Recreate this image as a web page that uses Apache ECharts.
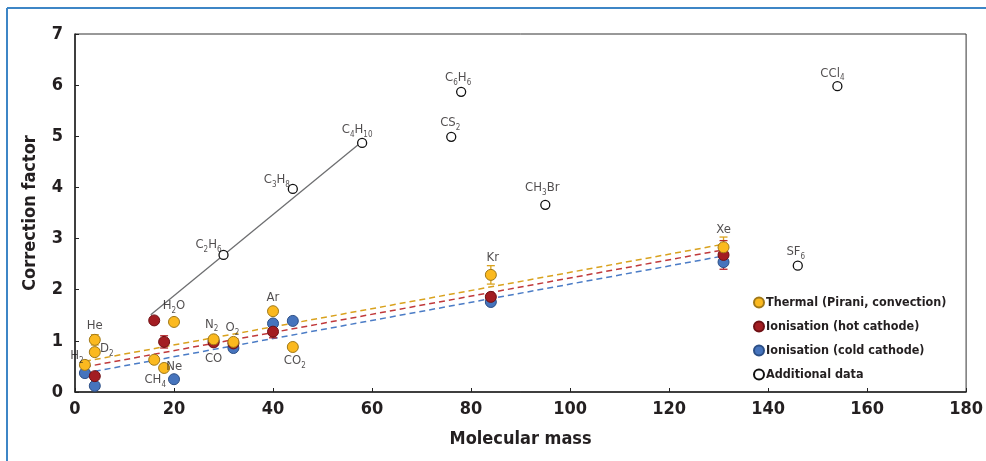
<!DOCTYPE html>
<html>
<head>
<meta charset="utf-8">
<script src="https://cdn.jsdelivr.net/npm/echarts@6/dist/echarts.min.js"></script>
<style>
  html, body { margin: 0; padding: 0; background: #fff; }
  #chart { width: 986px; height: 461px; }
</style>
</head>
<body>
<div id="chart"></div>
<script>
// values: [molecular mass, correction factor]
let thermal = [[2, 0.53], [4, 1.02], [4, 0.78], [16, 0.63], [18, 0.47], [20, 1.37], [28, 1.03], [32, 0.98], [40, 1.58], [44, 0.88], [84, 2.29], [131, 2.83]];
let hotCathode = [[4, 0.31], [16, 1.40], [18, 0.98], [28, 0.97], [32, 0.95], [40, 1.18], [84, 1.86], [131, 2.68]];
let coldCathode = [[2, 0.37], [4, 0.12], [20, 0.25], [28, 1.0], [32, 0.86], [40, 1.34], [44, 1.39], [84, 1.76], [131, 2.54]];
let additional = [[30, 2.68], [44, 3.97], [58, 4.87], [78, 5.87], [76, 4.99], [95, 3.66], [146, 2.47], [154, 5.98]];

// error bars: [mass, low, high]
let thermalErr = [[4, 0.92, 1.12], [84, 2.11, 2.47], [131, 2.63, 3.03]];
let hotErr = [[18, 0.86, 1.10], [40, 1.06, 1.30], [84, 1.79, 1.93], [131, 2.40, 2.96]];

// fitted lines
let thermalFit = [[2, 0.60], [131, 2.89]];
let hotFit = [[2, 0.49], [131, 2.78]];
let coldFit = [[2, 0.37], [131, 2.66]];
let hydrocarbonFit = [[15.3, 1.51], [58, 4.90]];

// gas labels: [mass, factor of the point they sit next to, formula]
let gasLabels = [
  [2, 0.53, 'H2'], [4, 1.02, 'He'], [4, 0.78, 'D2'], [16, 0.63, 'CH4'], [18, 0.47, 'Ne'],
  [20, 1.37, 'H2O'], [28, 1.03, 'N2'], [32, 0.98, 'O2'], [28, 1.0, 'CO'], [40, 1.58, 'Ar'],
  [44, 0.88, 'CO2'], [84, 2.29, 'Kr'], [131, 2.83, 'Xe'],
  [30, 2.68, 'C2H6'], [44, 3.97, 'C3H8'], [58, 4.87, 'C4H10'], [78, 5.87, 'C6H6'],
  [76, 4.99, 'CS2'], [95, 3.66, 'CH3Br'], [146, 2.47, 'SF6'], [154, 5.98, 'CCl4']
];
let xTicks = [0, 180, 20];
let yTicks = [0, 7, 1];

// pixel offsets of each label from its point
let labelOffsets = {
  H2: [-8, -9], He: [0, -14], D2: [12, -3], CH4: [1, 20], Ne: [10, -1],
  H2O: [0, -16], N2: [-2, -15], O2: [-1, -14], CO: [0, 18], Ar: [0, -14],
  CO2: [2, 14], Kr: [2, -17], Xe: [0, -18],
  C2H6: [-15, -10], C3H8: [-16, -9], C4H10: [-5, -13], C6H6: [-3, -14],
  CS2: [-1, -14], CH3Br: [-3, -17], SF6: [-2, -14], CCl4: [-5, -13]
};

const FONT = "'Liberation Sans Narrow', 'DejaVu Sans Condensed', sans-serif";
const INK = '#231f20';

let chartDom = document.getElementById('chart');
let myChart = echarts.init(chartDom);

function formula(txt) {
  // every digit run in the formulas is a subscript
  return txt.replace(/(\d+)|([^\d]+)/g, function (m, d, t) {
    return d ? '{s|' + d + '}' : '{n|' + t + '}';
  });
}

function errorBar(color) {
  return function (params, api) {
    let top = api.coord([api.value(0), api.value(2)]);
    let bot = api.coord([api.value(0), api.value(1)]);
    let w = 4;
    let style = { stroke: color, lineWidth: 1.3 };
    return {
      type: 'group',
      children: [
        { type: 'line', shape: { x1: top[0], y1: top[1], x2: bot[0], y2: bot[1] }, style: style },
        { type: 'line', shape: { x1: top[0] - w, y1: top[1], x2: top[0] + w, y2: top[1] }, style: style },
        { type: 'line', shape: { x1: bot[0] - w, y1: bot[1], x2: bot[0] + w, y2: bot[1] }, style: style }
      ]
    };
  };
}

function dashed(name, data, color) {
  return {
    name: name + ' fit',
    type: 'line',
    data: data,
    symbol: 'none',
    silent: true,
    z: 1,
    lineStyle: { color: color, width: 1.5, type: [6, 4] }
  };
}

let option = {
  backgroundColor: '#fff',
  animation: false,
  textStyle: { fontFamily: FONT },
  graphic: [
    { type: 'line', shape: { x1: 7, y1: 8, x2: 7, y2: 461 }, style: { stroke: '#3d86c6', lineWidth: 2 } },
    { type: 'line', shape: { x1: 7, y1: 8, x2: 986, y2: 8 }, style: { stroke: '#3d86c6', lineWidth: 2 } }
  ],
  grid: {
    left: 75,
    right: 18,
    top: 34,
    bottom: 69,
    show: true,
    borderColor: '#333',
    borderWidth: 1
  },
  legend: {
    orient: 'vertical',
    left: 748,
    top: 291,
    itemGap: 11,
    itemWidth: 10,
    itemHeight: 10,
    icon: 'circle',
    textStyle: { fontFamily: FONT, fontWeight: 'bold', fontSize: 12.5, color: INK, padding: [0, 0, 0, -3] },
    data: ['Thermal (Pirani, convection)', 'Ionisation (hot cathode)', 'Ionisation (cold cathode)', 'Additional data']
  },
  xAxis: {
    type: 'value',
    min: xTicks[0],
    max: xTicks[1],
    interval: xTicks[2],
    name: 'Molecular mass',
    nameLocation: 'middle',
    nameGap: 38,
    nameTextStyle: { fontFamily: FONT, fontWeight: 'bold', fontSize: 18, color: INK },
    axisLine: { lineStyle: { color: '#222', width: 1.5 } },
    axisTick: { inside: true, length: 4, lineStyle: { color: '#222' } },
    axisLabel: { fontFamily: FONT, fontWeight: 'bold', fontSize: 18, color: INK, margin: 8 },
    splitLine: { show: false }
  },
  yAxis: {
    type: 'value',
    min: yTicks[0],
    max: yTicks[1],
    interval: yTicks[2],
    name: 'Correction factor',
    nameLocation: 'middle',
    nameGap: 36,
    nameTextStyle: { fontFamily: FONT, fontWeight: 'bold', fontSize: 18, color: INK },
    axisLine: { show: true, lineStyle: { color: '#222', width: 1.5 } },
    axisTick: { show: true, inside: true, length: 4, lineStyle: { color: '#222' } },
    axisLabel: { fontFamily: FONT, fontWeight: 'bold', fontSize: 18, color: INK, margin: 12 },
    splitLine: { show: false }
  },
  series: [
    dashed('Thermal', thermalFit, '#d9a21e'),
    dashed('Hot', hotFit, '#c0393b'),
    dashed('Cold', coldFit, '#4b7cc6'),
    {
      name: 'Hydrocarbons fit',
      type: 'line',
      data: hydrocarbonFit,
      symbol: 'none',
      silent: true,
      z: 1,
      lineStyle: { color: '#6d6e70', width: 1.3 }
    },
    {
      name: 'Thermal error',
      type: 'custom',
      renderItem: errorBar('#d9a21e'),
      data: thermalErr,
      z: 2
    },
    {
      name: 'Hot error',
      type: 'custom',
      renderItem: errorBar('#b5262b'),
      data: hotErr,
      z: 2
    },
    {
      name: 'Ionisation (cold cathode)',
      type: 'scatter',
      data: coldCathode,
      symbolSize: 11,
      z: 3,
      itemStyle: { color: '#4674bd', borderColor: '#2c4f86', borderWidth: 1, opacity: 1 }
    },
    {
      name: 'Ionisation (hot cathode)',
      type: 'scatter',
      data: hotCathode,
      symbolSize: 11,
      z: 4,
      itemStyle: { color: '#a31d22', borderColor: '#6e1014', borderWidth: 1, opacity: 1 }
    },
    {
      name: 'Thermal (Pirani, convection)',
      type: 'scatter',
      data: thermal,
      symbolSize: 11,
      z: 5,
      itemStyle: { color: '#fbb91f', borderColor: '#a07818', borderWidth: 1, opacity: 1 }
    },
    {
      name: 'Additional data',
      type: 'scatter',
      data: additional,
      symbolSize: 9,
      z: 5,
      itemStyle: { color: '#fff', borderColor: '#111', borderWidth: 1.3, opacity: 1 }
    },
    {
      name: 'Labels',
      type: 'scatter',
      symbolSize: 0,
      silent: true,
      z: 6,
      data: gasLabels.map(function (g) {
        return {
          value: [g[0], g[1]],
          label: {
            show: true,
            position: 'inside',
            offset: labelOffsets[g[2]],
            formatter: formula(g[2]),
            rich: {
              n: { fontFamily: FONT, fontSize: 13, color: INK, lineHeight: 18 },
              s: { fontFamily: FONT, fontSize: 8, color: INK, lineHeight: 8, verticalAlign: 'bottom' }
            }
          }
        };
      })
    }
  ]
};

option && myChart.setOption(option);
</script>
</body>
</html>
